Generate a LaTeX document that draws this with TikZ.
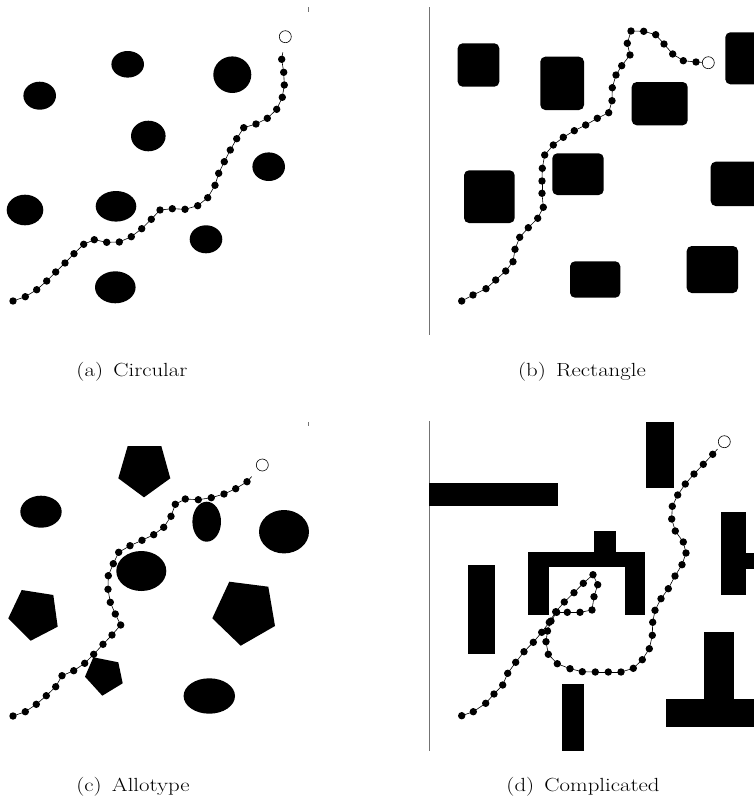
\documentclass[tikz,border=0pt]{standalone}
\usepackage{graphicx}
\usetikzlibrary{calc}
\tikzset{
  obst/.style={fill=black},
  pdot/.style={fill=black},
  pline/.style={draw=black, line width=0.6pt},
  goalc/.style={draw=black, fill=white, line width=0.6pt},
  frameline/.style={draw=black!55, line width=0.6pt},
  captext/.style={font=\fontsize{19}{23}\selectfont, inner sep=0pt, anchor=center}
}
\newcommand\captxt[1]{\scalebox{1.2}[1]{#1}}
\newcommand\robotpath[3]{%
  \path #2 coordinate (#1g);
  \foreach \p [count=\k] in {#3} {\path \p coordinate (#1-\k); \xdef\lastn{\k}}
  \draw[pline] (#1-1) -- ($(#1-1)!7pt!(#1g)$);
  \foreach \k [remember=\k as \j (initially 1)] in {2,...,\lastn} {\draw[pline] (#1-\j) -- (#1-\k);}
  \foreach \k in {1,...,\lastn} {\fill[pdot] (#1-\k) circle[radius=3.7pt];}
  \draw[goalc] (#1g) circle[radius=6pt];
}
\begin{document}
\begin{tikzpicture}[x=1pt,y=-1pt]
\useasboundingbox (0,0) rectangle (754,809);
\fill[white] (0,0) rectangle (754,809);

% ---------- (a) Circular ----------
\draw[frameline] (308,7) -- (308,12);
\fill[obst] (127.7,64.3) ellipse [x radius=16.3pt, y radius=13.3pt];
\fill[obst] (232.3,74.7) ellipse [x radius=19pt, y radius=18.3pt];
\fill[obst] (39.7,95.7) ellipse [x radius=16.3pt, y radius=14pt];
\fill[obst] (148.3,136) ellipse [x radius=17.3pt, y radius=15.3pt];
\fill[obst] (268.7,166.7) ellipse [x radius=16.3pt, y radius=14.3pt];
\fill[obst] (25,210) ellipse [x radius=18.3pt, y radius=15.3pt];
\fill[obst] (116,206.3) ellipse [x radius=20.3pt, y radius=15.3pt];
\fill[obst] (206,239.3) ellipse [x radius=16.3pt, y radius=14pt];
\fill[obst] (115.3,287.3) ellipse [x radius=20.3pt, y radius=16pt];
\robotpath{a}{(285.3,36.7)}{(281.7,59.3),(283.7,72.3),(284.3,85),(282.3,97.3),(276.7,109.3),(267.3,118.3),(256,124),(243.7,127.7),(236.7,138.7),(230.3,150),(224.3,161.7),(218.7,173.3),(215,185.3),(207.7,197.7),(197.7,205.7),(185,209.3),(172.3,208.7),(160,210),(151.3,219.3),(141.7,228.7),(131.3,236.7),(119.3,242),(106.7,242.3),(94.3,239.7),(83.7,244.3),(74,253.7),(65,263),(55.7,272),(46.7,281),(36.7,289.7),(25.3,296.7),(13,301)}
\node[captext] (capa) at (132,372) {\captxt{(a)\hspace{0.45em}Circular}};

% ---------- (b) Rectangle ----------
\draw[frameline] (429,7) -- (429,335);
\fill[obst, rounded corners=5pt] (457.7,43.3) rectangle (499.3,86.7);
\fill[obst, rounded corners=5pt] (540.3,56.7) rectangle (584,110);
\fill[obst, rounded corners=5pt] (631.7,82) rectangle (687.7,125.3);
\fill[obst, rounded corners=5pt] (725.3,32.3) rectangle (770,84.3);
\fill[obst, rounded corners=5pt] (552.3,153.3) rectangle (603.7,195);
\fill[obst, rounded corners=5pt] (464,170.3) rectangle (514.7,223);
\fill[obst, rounded corners=5pt] (710.7,161.7) rectangle (770,206);
\fill[obst, rounded corners=5pt] (686.7,246) rectangle (738,293);
\fill[obst, rounded corners=5pt] (570,261.3) rectangle (620.3,297.7);
\robotpath{b}{(708.3,62.7)}{(696,62),(683.3,60.7),(672.7,54),(664,44),(655.7,34.7),(643.7,31.3),(631,31),(627.3,43.3),(630,55),(621.7,65.7),(616,75),(612.3,87.7),(612,100.7),(608.7,112.7),(597.3,118.3),(585.7,125),(574.3,130.7),(563.3,137.3),(553.3,145),(544.7,155),(542.3,168.3),(542,181),(542,193.3),(543.3,207.3),(537.7,218.3),(528.3,227.7),(519.7,237.3),(515,249.3),(513,261.7),(505.7,271),(495.7,280),(486,288.7),(473,295),(461.7,301)}
\node[captext] (capb) at (582,372) {\captxt{(b)\hspace{0.45em}Rectangle}};

% ---------- (c) Allotype ----------
\draw[frameline] (308,422) -- (308,426);
\begin{scope}
\clip (0,405) rectangle (309,745);
\fill[obst] (127.7,446) -- (161.3,446) -- (170.3,478.3) -- (144,497.3) -- (118.3,478.3) -- cycle;
\fill[obst] (41,511.7) ellipse [x radius=20.7pt, y radius=16pt];
\fill[obst] (206.7,521.7) ellipse [x radius=14.3pt, y radius=20pt];
\fill[obst] (284,531.7) ellipse [x radius=25pt, y radius=21.7pt];
\fill[obst] (141.3,571) ellipse [x radius=25pt, y radius=20pt];
\fill[obst] (21.7,590) -- (53.3,595) -- (57.7,626.7) -- (30.7,640.7) -- (8.3,618.3) -- cycle;
\fill[obst] (229.3,581.7) -- (268.3,586.7) -- (275,626) -- (240.7,645.7) -- (212.3,618.3) -- cycle;
\fill[obst] (93.3,657.3) -- (118.3,662.3) -- (122.7,683.3) -- (102.3,695.7) -- (85,676.7) -- cycle;
\fill[obst] (209.3,696) ellipse [x radius=25.7pt, y radius=17.7pt];
\end{scope}
\robotpath{c}{(262.3,465)}{(247,481.7),(235.7,488.7),(224,494),(211.3,497.7),(198.3,499.7),(185.3,499),(175.3,504.3),(171,516.3),(163.7,527.3),(153.7,534.7),(142,540.3),(130,545.7),(118.7,552.3),(113.3,563.7),(108.3,575.7),(108,589.3),(110.3,602.3),(115.3,614),(120.7,625),(112,635),(103,644.3),(93.7,654.3),(84.7,663.3),(73.7,670.7),(62,675.7),(55.7,686.7),(46.3,695.7),(36.3,704.3),(25.3,711.7),(13,716)}
\node[captext] (capc) at (133,787) {\captxt{(c)\hspace{0.45em}Allotype}};

% ---------- (d) Complicated ----------
\draw[frameline] (429,421) -- (429,751);
\fill[obst] (429,483.3) rectangle (557.7,506.3);
\fill[obst] (646.3,422) rectangle (674,488);
\fill[obst] (721.3,511.7) rectangle (745.7,595);
\fill[obst] (745,552.7) rectangle (760,569.3);
\fill[obst] (468,565) rectangle (494.7,654.3);
\fill[obst] (527.7,551.7) rectangle (645.3,566.7);
\fill[obst] (594.3,530.7) rectangle (615.7,552);
\fill[obst] (527.7,551.7) rectangle (548.7,614.7);
\fill[obst] (624.7,551.7) rectangle (645.3,614.7);
\fill[obst] (562.3,683.7) rectangle (584,751);
\fill[obst] (704.3,632) rectangle (734,699);
\fill[obst] (665.7,698.7) rectangle (760,727.3);
\robotpath{d}{(724.3,441.7)}{(712.7,454.3),(703.3,464.3),(694,474),(685.3,484),(677.7,495),(672.3,506.3),(671.7,519),(675.3,531),(683.3,542),(686,553),(682,564.7),(675,576),(668.3,588.7),(661,598.7),(655,610.3),(652.7,622.3),(652.3,635.3),(649.3,648.7),(642.3,659.7),(633.3,668.3),(621,672),(608.3,672),(595.3,672),(582.3,671.7),(570,668.7),(557.3,663.7),(548.3,654.3),(546,641.7),(547.5,631),(551,621),(556.7,612.3),(567.3,612.3),(580,612.3),(592,610),(594,596.7),(597.7,584.7),(593,574.7),(583.3,583.3),(574,592.7),(564.3,602),(555.7,611.7),(549.3,622.3),(541.7,632.3),(533.3,642.3),(524,651.7),(515.7,662.3),(507.7,673.3),(502.7,685),(494,694),(485.7,703.3),(473.3,711.7),(461.7,715.7)}
\node[captext] (capd) at (583,787) {\captxt{(d)\hspace{0.45em}Complicated}};
\end{tikzpicture}
\end{document}
